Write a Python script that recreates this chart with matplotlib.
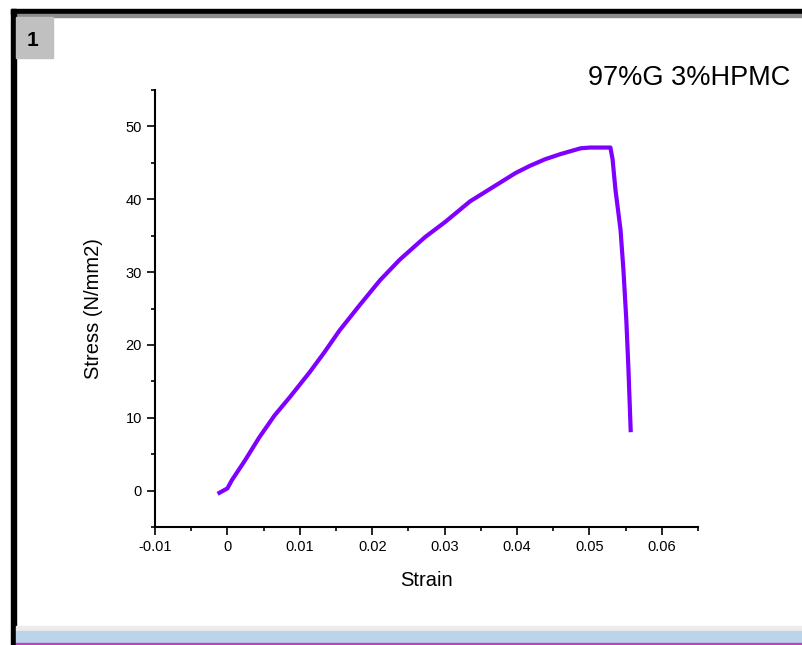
import matplotlib.pyplot as plt
from matplotlib.patches import Rectangle
from matplotlib.ticker import MultipleLocator

# strain / stress points
strain = [-0.0011, 0.0, 0.0006, 0.0024, 0.0044, 0.0065, 0.0086, 0.0114, 0.0134,
          0.0155, 0.0183, 0.0211, 0.0238, 0.0273, 0.0301, 0.0335, 0.0377, 0.0398,
          0.0418, 0.0439, 0.0460, 0.0488, 0.0501, 0.0529, 0.0532, 0.0536, 0.0543,
          0.0547, 0.0551, 0.0554, 0.0557]
stress = [-0.3, 0.3, 1.4, 4.1, 7.3, 10.3, 12.8, 16.3, 19.0,
          22.0, 25.5, 28.9, 31.7, 34.8, 36.9, 39.7, 42.3, 43.6,
          44.6, 45.5, 46.2, 47.0, 47.1, 47.1, 45.5, 41.3, 35.8,
          30.3, 23.4, 16.5, 8.3]
title = "97%G 3%HPMC"
x_ticks = [-0.01, 0, 0.01, 0.02, 0.03, 0.04, 0.05, 0.06]
x_labels = ["-0.01", "0", "0.01", "0.02", "0.03", "0.04", "0.05", "0.06"]
y_ticks = [0, 10, 20, 30, 40, 50]

plt.rcParams['font.family'] = ['Liberation Sans', 'DejaVu Sans']

W, H = 803, 645
fig = plt.figure(figsize=(W / 100, H / 100), dpi=100)

# window frame around the graph page
def px_rect(x0, y0, x1, y1, color):
    fig.patches.append(Rectangle((x0 / W, 1 - y1 / H), (x1 - x0) / W, (y1 - y0) / H,
                                 transform=fig.transFigure, color=color, zorder=0))

px_rect(11, 9, W, 14, "black")
px_rect(16, 14, W, 17, "#8c8c8c")
px_rect(11, 9, 16, H, "black")
px_rect(16, 17, 53, 58, "#c0c0c0")
px_rect(16, 626, W, 631, "#ececec")
px_rect(16, 631, W, 643, "#bcd3ec")
px_rect(16, 643, W, H, "#c040c0")
fig.text(27 / W, 1 - 40 / H, "1", fontsize=15, fontweight="bold", va="center", ha="left")

ax = fig.add_axes([155 / W, 1 - 527 / H, (698 - 155) / W, (527 - 90) / H])
ax.plot(strain, stress, color="#8000ff", lw=3)

ax.set_xlim(-0.01, 0.065)
ax.set_ylim(-5, 55)
ax.set_xticks(x_ticks)
ax.set_xticklabels(x_labels)
ax.set_yticks(y_ticks)
ax.xaxis.set_minor_locator(MultipleLocator(0.005))
ax.yaxis.set_minor_locator(MultipleLocator(5))
ax.tick_params(which="major", direction="out", length=6, width=1.2, labelsize=10.5)
ax.tick_params(which="minor", direction="out", length=3, width=1.2)
ax.spines["top"].set_visible(False)
ax.spines["right"].set_visible(False)
ax.spines["left"].set_linewidth(1.5)
ax.spines["bottom"].set_linewidth(1.5)
ax.set_xlabel("Strain", fontsize=14.5, labelpad=12)
ax.set_ylabel("Stress (N/mm2)", fontsize=14.5, labelpad=16)

fig.text(790 / W, 1 - 78 / H, title, fontsize=19.5, ha="right", va="center")

fig.savefig("out.png", dpi=100)
